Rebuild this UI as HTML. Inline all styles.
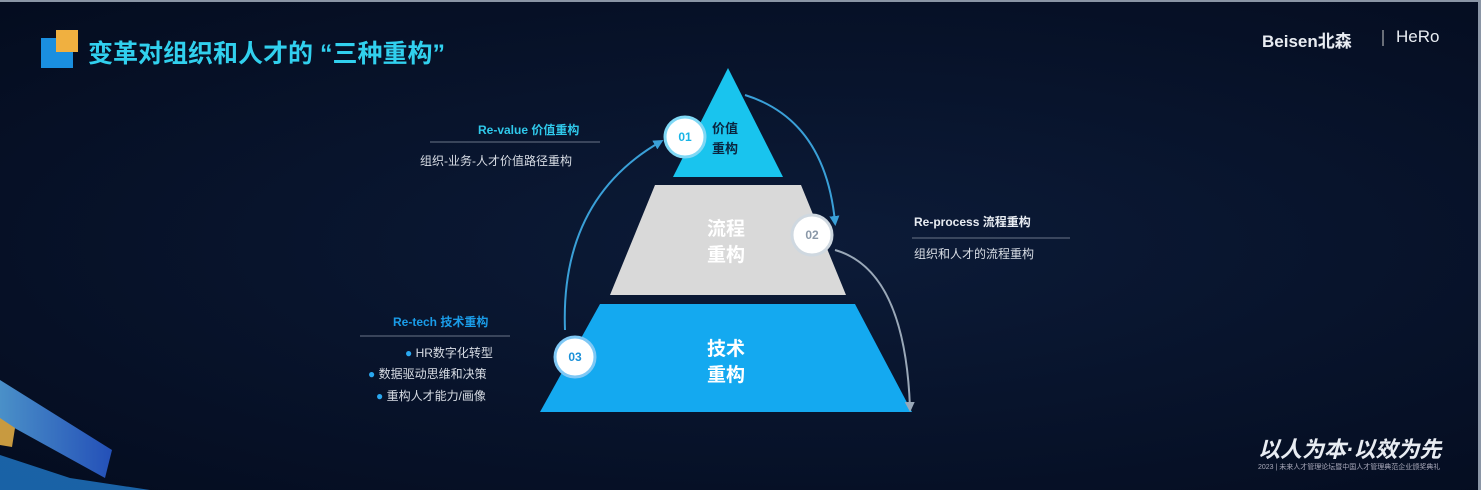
<!DOCTYPE html>
<html><head><meta charset="utf-8"><style>
body{margin:0;width:1481px;height:490px;overflow:hidden;background:#061127;font-family:"Liberation Sans","Noto Sans CJK SC",sans-serif;}
.t{position:absolute;white-space:nowrap}
.c{position:absolute;width:40px;text-align:center;font-size:12px;font-weight:bold}
</style></head><body>
<div style="position:absolute;inset:0;background:radial-gradient(ellipse at 55% 50%,#0c1b38 0%,#071229 60%,#040c1f 100%)"></div>
<svg width="1481" height="490" style="position:absolute;left:0;top:0">
<defs>
<marker id="a" markerWidth="10" markerHeight="10" refX="6" refY="5" orient="auto" markerUnits="userSpaceOnUse"><path d="M0,0 L10,5 L0,10 z" fill="#3aa0d8"/></marker>
<marker id="g" markerWidth="10" markerHeight="10" refX="6" refY="5" orient="auto" markerUnits="userSpaceOnUse"><path d="M0,0 L10,5 L0,10 z" fill="#9aa8b8"/></marker>
<linearGradient id="s" x1="0" y1="0" x2="1" y2="0"><stop offset="0" stop-color="#4a90c8"/><stop offset="1" stop-color="#2450b8"/></linearGradient>
</defs>
<polygon points="0,380 112,450 105,478 0,420" fill="url(#s)"/>
<polygon points="0,455 70,478 150,490 0,490" fill="#1f78c8" opacity=".8"/>
<polygon points="0,418 15,428 12,447 0,445" fill="#c89a40"/>
<rect x="0" y="0" width="1481" height="2" fill="#8a95a5"/>
<rect x="1478" y="0" width="3" height="490" fill="#8a95a5"/>
<polygon points="728,68 783,177 673,177" fill="#19c4ee"/>
<polygon points="655,185 801,185 846,295 610,295" fill="#d9d9d9"/>
<polygon points="600,304 855,304 912,412 540,412" fill="#14a9f0"/>
<path d="M565,330 Q560,200 660,142" stroke="#3aa0d8" stroke-width="2" fill="none" marker-end="url(#a)"/>
<path d="M745,95 Q825,120 835,222" stroke="#3aa0d8" stroke-width="2" fill="none" marker-end="url(#a)"/>
<path d="M835,250 Q905,270 910,408" stroke="#9aa8b8" stroke-width="2" fill="none" marker-end="url(#g)"/>
<circle cx="685" cy="137" r="20" fill="#fff" stroke="#7fd8f5" stroke-width="3"/>
<circle cx="812" cy="235" r="20" fill="#fff" stroke="#cfd8e0" stroke-width="3"/>
<circle cx="575" cy="357" r="20" fill="#fff" stroke="#7fc8f5" stroke-width="3"/>
<line x1="430" y1="142" x2="600" y2="142" stroke="#6a7588" stroke-width="1"/>
<line x1="912" y1="238" x2="1070" y2="238" stroke="#6a7588" stroke-width="1"/>
<line x1="360" y1="336" x2="510" y2="336" stroke="#6a7588" stroke-width="1"/>
<rect x="41" y="38" width="32" height="30" fill="#1a8fe0"/>
<rect x="56" y="30" width="22" height="22" fill="#f0b040"/>
<line x1="1383" y1="30" x2="1383" y2="46" stroke="#ccc" stroke-width="1"/>
</svg>
<div class="t" style="left:88px;top:34px;font-size:25px;font-weight:bold;color:#31d0ee">变革对组织和人才的 “三种重构”</div>
<div class="t" style="left:1262px;top:27px;font-size:17px;font-weight:bold;color:#e8ecf2">Beisen北森</div>
<div class="t" style="left:1396px;top:27px;font-size:17px;color:#e8ecf2">HeRo</div>
<div class="t" style="left:1258px;top:432px;font-size:22px;font-weight:bold;font-style:italic;color:#e8ecf2">以人为本·以效为先</div>
<div class="t" style="left:1258px;top:462px;font-size:7px;color:#aab">2023 | 未来人才管理论坛暨中国人才管理典范企业颁奖典礼</div>
<div class="t" style="left:478px;top:121px;font-size:12px;font-weight:bold;color:#2fc8ea">Re-value 价值重构</div>
<div class="t" style="left:420px;top:152px;font-size:12px;color:#d8dde5">组织-业务-人才价值路径重构</div>
<div class="t" style="left:712px;top:119px;font-size:13px;font-weight:bold;color:#0a2540;line-height:20px">价值<br>重构</div>
<div class="c" style="left:665px;top:130px;color:#19b4e6">01</div>
<div class="t" style="left:707px;top:217px;font-size:19px;font-weight:bold;color:#fff;line-height:26px">流程<br>重构</div>
<div class="c" style="left:792px;top:228px;color:#8a98a8">02</div>
<div class="t" style="left:914px;top:213px;font-size:12px;font-weight:bold;color:#e8ecf2">Re-process 流程重构</div>
<div class="t" style="left:914px;top:245px;font-size:12px;color:#d8dde5">组织和人才的流程重构</div>
<div class="t" style="left:707px;top:337px;font-size:19px;font-weight:bold;color:#fff;line-height:26px">技术<br>重构</div>
<div class="c" style="left:555px;top:350px;color:#1a90d8">03</div>
<div class="t" style="left:393px;top:313px;font-size:12px;font-weight:bold;color:#1a9ce8">Re-tech 技术重构</div>
<div class="t" style="left:405px;top:344px;font-size:12px;color:#d8dde5"><span style="color:#2aa8f0">●</span> HR数字化转型</div>
<div class="t" style="left:368px;top:365px;font-size:12px;color:#d8dde5"><span style="color:#2aa8f0">●</span> 数据驱动思维和决策</div>
<div class="t" style="left:376px;top:387px;font-size:12px;color:#d8dde5"><span style="color:#2aa8f0">●</span> 重构人才能力/画像</div>
</body></html>
